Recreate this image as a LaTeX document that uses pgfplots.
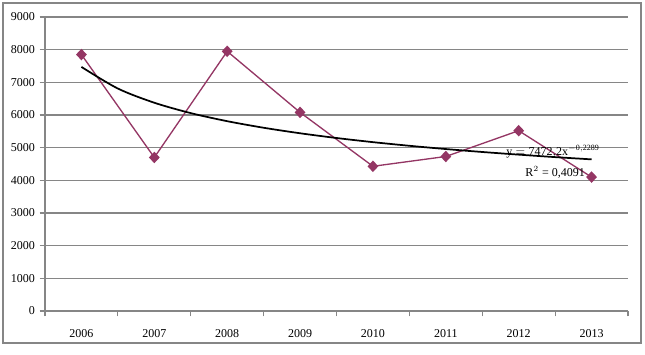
\documentclass[border=0pt]{standalone}
\usepackage{pgfplots}
\pgfplotsset{compat=1.18}
\usepackage{fontspec}
\setmainfont{Liberation Serif}
\definecolor{ser}{RGB}{148,54,100}
\definecolor{gridc}{RGB}{134,134,134}
\begin{document}
\begin{tikzpicture}
\path (0,0) rectangle (483.75pt,265.5pt);
\draw[gridc, line width=0.8pt] (2.25pt,8.25pt) rectangle (480.75pt,263.25pt);
\begin{axis}[
  at={(33.75pt,32.25pt)}, anchor=south west,
  scale only axis, width=437.25pt, height=220.5pt,
  xmin=0.5, xmax=8.5, ymin=0, ymax=9000,
  axis x line*=bottom, axis y line*=left,
  axis line style={gridc, line width=0.8pt, -},
  xtick={1,...,8},
  xticklabels={2006,2007,2008,2009,2010,2011,2012,2013},
  major x tick style={draw=none},
  minor xtick={0.5,1.5,...,8.5},
  minor x tick style={gridc, line width=0.8pt},
  minor tick length=4pt,
  ytick={0,1000,...,9000},
  major tick length=4pt,
  y tick style={gridc, line width=0.8pt},
  tick align=outside,
  ymajorgrids,
  grid style={gridc, line width=0.8pt},
  scaled y ticks=false,
  yticklabel style={/pgf/number format/.cd, fixed, 1000 sep={}},
  /pgf/number format/assume math mode=true,
  ticklabel style={font=\fontsize{9}{10}\selectfont},
  xticklabel style={yshift=-6pt},
  clip=false,
]
\addplot[ser, line width=1pt, mark=diamond*, mark size=3.6pt, mark options={solid, fill=ser, xscale=1.25}]
coordinates {(1,7850) (2,4700) (3,7950) (4,6080) (5,4430) (6,4730) (7,5520) (8,4100)};
\addplot[black, line width=1.3pt, smooth]
coordinates {(1,7472) (1.5,6810) (2,6376) (2.5,6058) (3,5811) (3.5,5610) (4,5441) (4.5,5296) (5,5169) (5.5,5058) (6,4958) (6.5,4868) (7,4787) (7.5,4711) (8,4642)};
\node[font=\fontsize{9}{10}\selectfont, inner sep=0pt] at (axis cs:7.47,4890) {$\mathrm{y = 7472{,}2x}^{\mathrm{-0{,}2289}}$};
\node[font=\fontsize{9}{10}\selectfont, inner sep=0pt] at (axis cs:7.5,4250) {R$^{2}$ = 0,4091};
\end{axis}
\end{tikzpicture}
\end{document}
